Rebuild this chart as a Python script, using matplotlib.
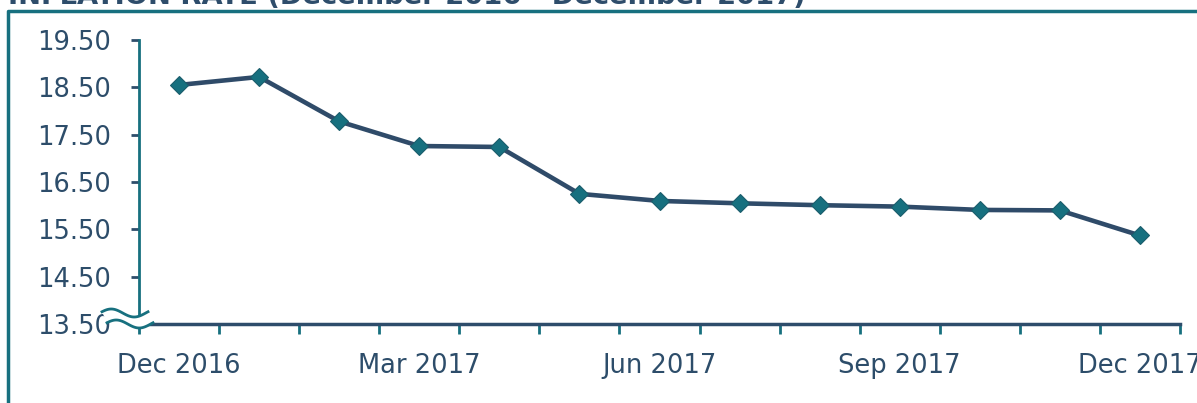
import numpy as np
import matplotlib
matplotlib.use("Agg")
import matplotlib.pyplot as plt
from matplotlib.patches import Polygon
from matplotlib.lines import Line2D

months = ["Dec 2016", "Jan 2017", "Feb 2017", "Mar 2017", "Apr 2017", "May 2017",
          "Jun 2017", "Jul 2017", "Aug 2017", "Sep 2017", "Oct 2017", "Nov 2017",
          "Dec 2017"]
inflation = [18.55, 18.72, 17.78, 17.26, 17.24, 16.25, 16.10, 16.05, 16.01,
             15.98, 15.91, 15.90, 15.37]
y_ticks = [13.5, 14.5, 15.5, 16.5, 17.5, 18.5, 19.5]
title = "INFLATION RATE (December 2016 - December 2017)"

navy = "#2e4d6b"
line_col = "#2f4b69"
teal = "#17707f"
text_col = "#2d4d6a"

fig = plt.figure(figsize=(11.97, 4.03), dpi=100)
ax = fig.add_axes([139 / 1197, 1 - 324 / 403, 1041 / 1197, 284 / 403])

x = np.arange(len(months))
ax.plot(x, inflation, color=line_col, lw=3.3, marker="D", markersize=9.5,
        markerfacecolor=teal, markeredgecolor="#1b5d6c", markeredgewidth=0.8,
        zorder=3)

ax.set_xlim(-0.5, len(months) - 0.5)
ax.set_ylim(13.5, 19.5)
ax.set_yticks(y_ticks)
ax.set_yticklabels([f"{v:.2f}" for v in y_ticks])

# category boundary ticks, labels every third month
ax.set_xticks(np.arange(len(months) + 1) - 0.5)
ax.set_xticklabels([])
ax.set_xticks(x[::3], minor=True)
ax.set_xticklabels(months[::3], minor=True)
ax.tick_params(axis="x", which="minor", length=0, pad=21, labelsize=18.5,
               labelcolor=text_col)
ax.tick_params(axis="x", which="major", length=7, width=2, color=teal,
               direction="out")
ax.tick_params(axis="y", length=6, width=2, color=navy, direction="out",
               labelsize=18.5, labelcolor=text_col, pad=14)

for s in ["top", "right"]:
    ax.spines[s].set_visible(False)
ax.spines["left"].set_color(teal)
ax.spines["left"].set_linewidth(2)
ax.spines["bottom"].set_color(navy)
ax.spines["bottom"].set_linewidth(2.5)

# axis break squiggle at the bottom-left corner (display pixels)
H = 403
t = np.linspace(0, 1, 40)
xs = 102 + 46 * t
top = (H - 313) + 4 * np.sin(2 * np.pi * t + np.pi * 0.1)
bot = top - 11
poly = np.column_stack([np.r_[xs, xs[::-1] + 5], np.r_[top, bot[::-1]]])
fig.patches.append(Polygon(poly / [1197, 403], closed=True, facecolor="white",
                           edgecolor="none", transform=fig.transFigure,
                           zorder=5))
for yy, dx in [(top, 0), (bot, 5)]:
    fig.lines.append(Line2D((xs + dx) / 1197, yy / 403, color=teal, lw=2,
                            transform=fig.transFigure, zorder=6))

# outer frame
fig.lines.append(Line2D([8 / 1197, 8 / 1197, 1.0], [0, 1 - 11 / 403, 1 - 11 / 403],
                        color=teal, lw=2.5, transform=fig.transFigure))

fig.text(8 / 1197, 1 - 4 / 403, title, fontsize=19.7, fontweight="bold",
         color=navy, ha="left", va="baseline")

fig.savefig("out.png", dpi=100)
